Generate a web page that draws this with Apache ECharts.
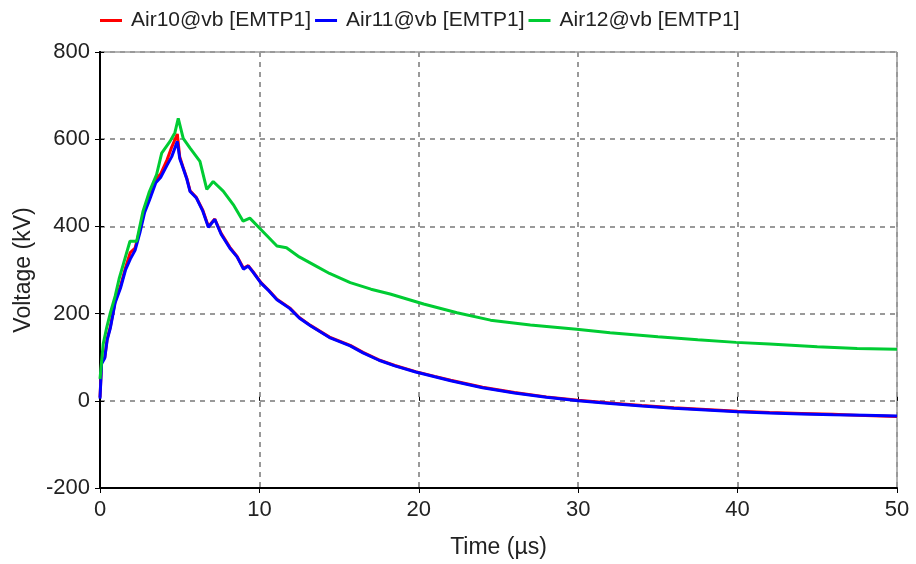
<!DOCTYPE html>
<html><head><meta charset="utf-8">
<script src="https://cdn.jsdelivr.net/npm/echarts@6/dist/echarts.min.js"></script>
<style>html,body{margin:0;padding:0;background:#fff}#c{width:916px;height:564px}</style>
</head><body><div id="c"></div>
<script>
const seriesNames = ['Air10@vb [EMTP1]', 'Air11@vb [EMTP1]', 'Air12@vb [EMTP1]'];
const xTicks = [0, 10, 20, 30, 40, 50];
const yTicks = [-200, 0, 200, 400, 600, 800];

const timeAB = [0, 0.1, 0.3, 0.45, 0.65, 0.95, 1.3, 1.6, 1.9, 2.2, 2.5, 2.8, 3.1, 3.5, 3.8, 4.2, 4.5, 4.85, 5.0, 5.2, 5.45, 5.65, 6.05, 6.45, 6.8, 7.2, 7.6, 8.15, 8.6, 9.0, 9.3, 9.6, 10.1, 10.6, 11.1, 11.9, 12.5, 13.2, 14.4, 15.7, 16.5, 17.5, 18.5, 19.8, 21, 22, 24, 26, 28, 30, 32, 34, 36, 38, 40, 42, 44, 46, 48, 50];
const air10 = [8, 88, 100, 142, 170, 228, 265, 305, 340, 350, 392, 440, 468, 508, 520, 552, 582, 612, 560, 537, 510, 482, 466, 437, 400, 417, 384, 352, 331, 304, 310, 296, 271, 253, 233, 213, 191, 173, 146, 127, 111, 94, 81, 67, 56, 47, 31, 19, 9, 1, -5, -11, -16, -20, -24, -27, -29, -31, -34, -36];
const air11 = [5, 85, 98, 140, 167, 225, 260, 300, 325, 345, 385, 432, 460, 500, 512, 540, 560, 595, 556, 535, 508, 480, 465, 435, 398, 416, 382, 350, 330, 302, 309, 295, 270, 252, 232, 212, 190, 172, 145, 126, 110, 93, 80, 66, 55, 46, 30, 18, 8, 0, -6, -12, -17, -21, -25, -28, -30, -32, -33, -35];

const timeC = [0, 0.2, 0.42, 0.63, 0.95, 1.2, 1.46, 1.88, 2.3, 2.7, 3.1, 3.55, 3.87, 4.39, 4.7, 4.91, 5.22, 5.64, 6.27, 6.7, 7.1, 7.73, 8.36, 8.98, 9.4, 10.2, 11.1, 11.7, 12.5, 13.5, 14.4, 15.7, 17, 18.2, 19.3, 20.3, 22.4, 24.5, 27, 29.9, 32, 35, 37.5, 39.9, 42, 45, 47.5, 50];
const air12 = [50, 130, 168, 199, 240, 280, 313, 366, 366, 435, 480, 519, 568, 595, 615, 648, 602, 580, 549, 485, 503, 481, 450, 412, 419, 389, 355, 351, 330, 310, 292, 271, 256, 245, 233, 222, 202, 185, 174, 164, 156, 147, 140, 134, 130, 124, 120, 118];

const colors = ['#ff0000', '#0000ff', '#00cc33'];
const pair = (xs, ys) => xs.map((x, i) => [x, ys[i]]);

const chart = echarts.init(document.getElementById('c'), null, {renderer: 'canvas'});
const font = 'Liberation Sans, Arial, sans-serif';
const gridLine = {show: true, lineStyle: {color: '#999', type: [5, 5], width: 2}};
chart.setOption({
  animation: false,
  color: colors,
  textStyle: {fontFamily: font},
  legend: {
    left: 95, top: 5, itemGap: 4, itemWidth: 22, itemHeight: 3,
    icon: 'rect',
    textStyle: {fontSize: 21, color: '#222', fontFamily: font, padding: [0, 0, 0, 4]},
    data: seriesNames
  },
  grid: {left: 100, right: 19, top: 52, bottom: 75, show: true, borderColor: '#666', borderWidth: 1},
  xAxis: [{
    type: 'value', min: 0, max: 50, interval: 10,
    name: 'Time (µs)', nameLocation: 'middle', nameGap: 48,
    nameTextStyle: {fontSize: 23, color: '#222', fontFamily: font},
    axisLine: {show: true, onZero: false, lineStyle: {color: '#000', width: 2}},
    axisTick: {show: true, length: 5, lineStyle: {color: '#000', width: 1}},
    axisLabel: {fontSize: 22, color: '#222', margin: 11, fontFamily: font},
    splitLine: gridLine
  }, {
    type: 'value', min: 0, max: 50, interval: 10, position: 'bottom', offset: 0,
    axisLine: {show: false},
    axisTick: {show: true, inside: true, length: 4, lineStyle: {color: '#000', width: 1}},
    axisLabel: {show: false}, splitLine: {show: false}
  }],
  yAxis: [{
    type: 'value', min: -200, max: 800, interval: 200,
    name: 'Voltage (kV)', nameLocation: 'middle', nameGap: 61, nameRotate: 90,
    nameTextStyle: {fontSize: 23, color: '#222', fontFamily: font},
    axisLine: {show: true, onZero: false, lineStyle: {color: '#000', width: 2}},
    axisTick: {show: true, length: 5, lineStyle: {color: '#000', width: 1}},
    axisLabel: {fontSize: 22, color: '#222', margin: 10, fontFamily: font},
    splitLine: gridLine
  }, {
    type: 'value', min: -200, max: 800, interval: 200, position: 'right',
    axisLine: {show: true, lineStyle: {color: '#000', width: 2}},
    axisTick: {show: false}, axisLabel: {show: false}, splitLine: {show: false}
  }, {
    type: 'value', min: -200, max: 800, interval: 200, position: 'left', offset: 0,
    axisLine: {show: false},
    axisTick: {show: true, inside: true, length: 4, lineStyle: {color: '#000', width: 1}},
    axisLabel: {show: false}, splitLine: {show: false}
  }],
  series: [
    {name: seriesNames[0], type: 'line', data: pair(timeAB, air10), showSymbol: false, lineStyle: {width: 3}},
    {name: seriesNames[1], type: 'line', data: pair(timeAB, air11), showSymbol: false, lineStyle: {width: 3}},
    {name: seriesNames[2], type: 'line', data: pair(timeC, air12), showSymbol: false, lineStyle: {width: 3}}
  ]
});
</script></body></html>
